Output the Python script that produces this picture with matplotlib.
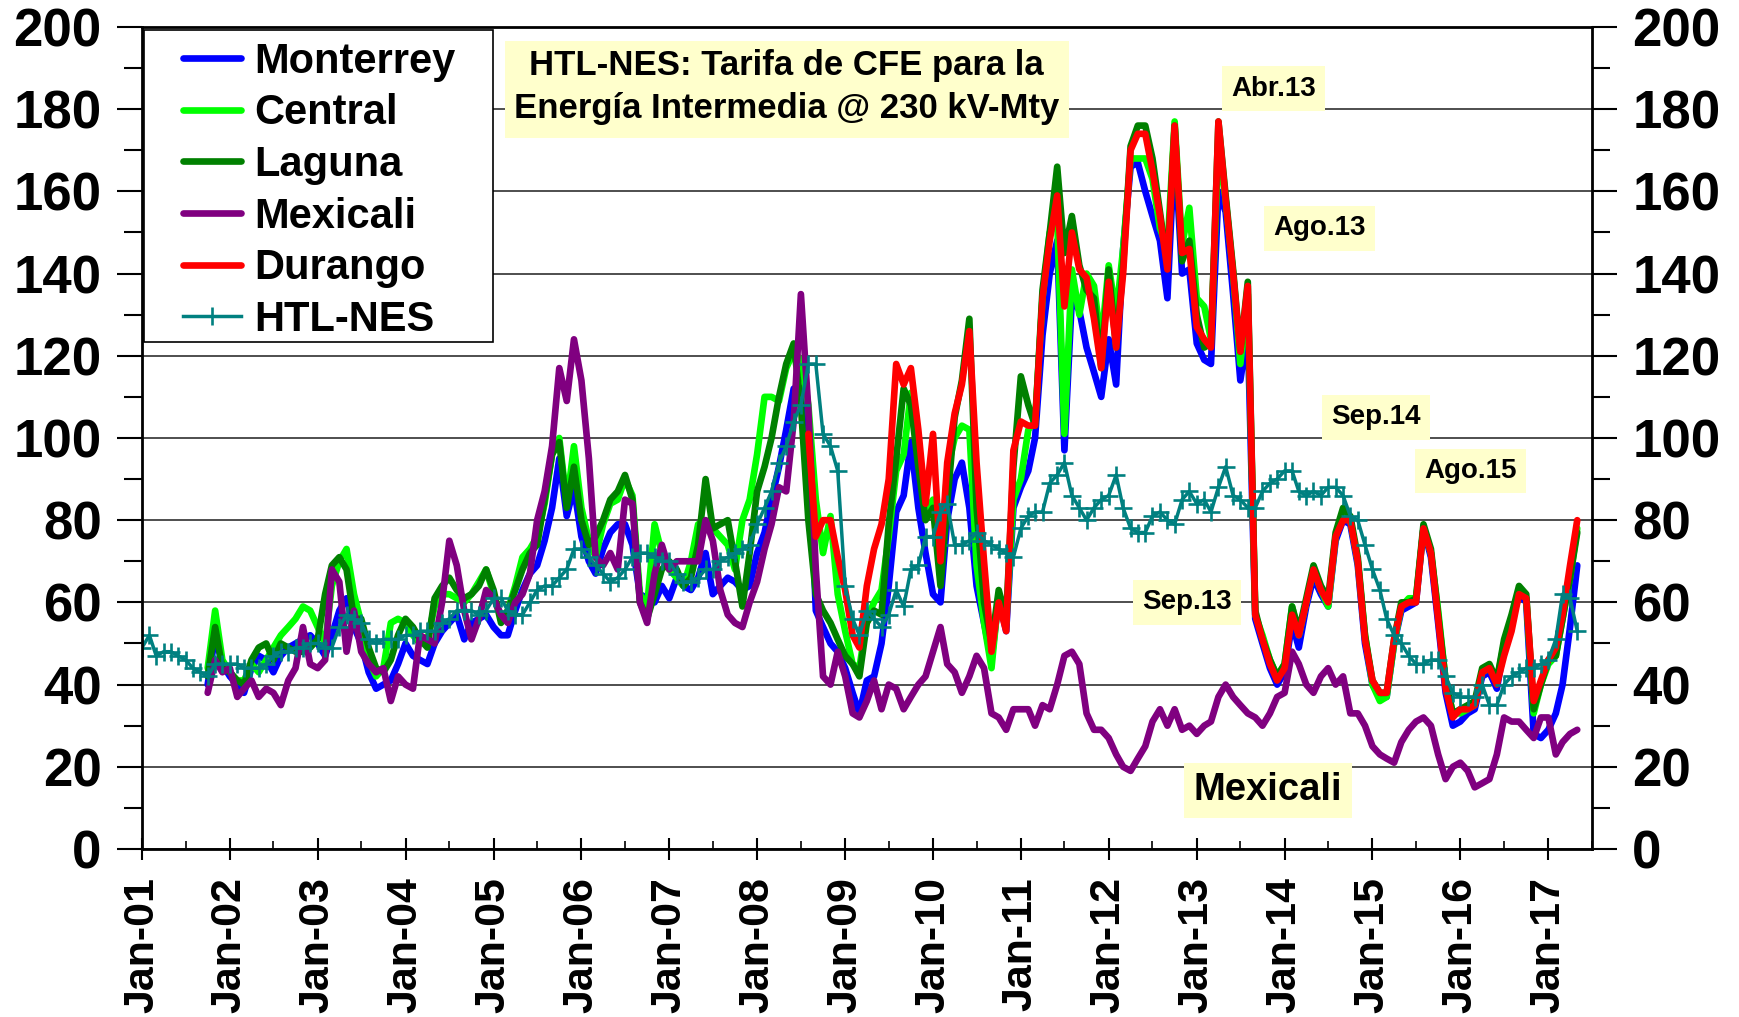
import matplotlib
matplotlib.use('Agg')
import matplotlib.pyplot as plt
import matplotlib.dates as mdates
from matplotlib.patches import Rectangle
from matplotlib.ticker import MultipleLocator
import pandas as pd

plt.rcParams['font.family'] = ['Liberation Sans', 'DejaVu Sans']
plt.rcParams['font.weight'] = 'bold'

# monthly values
htl_start = '2001-01-01'
htl_nes = [49, 52, 47, 48, 48, 47, 46, 44, 43, 42, 45, 45,
           45, 45, 44, 44, 44, 45, 47, 48, 48, 49, 49, 50,
           50, 49, 49, 54, 57, 56, 55, 51, 50, 51, 51, 51,
           52, 52, 53, 53, 53, 55, 56, 58, 58, 58, 57, 58,
           61, 61, 58, 57, 57, 60, 63, 64, 64, 66, 68, 73,
           73, 71, 69, 67, 65, 66, 68, 71, 72, 72, 71, 70,
           70, 67, 65, 65, 66, 68, 68, 70, 71, 72, 73, 74,
           79, 83, 87, 94, 98, 104, 108, 118, 118, 101, 98, 92,
           64, 56, 52, 58, 56, 54, 57, 63, 59, 68, 69, 76,
           76, 82, 84, 74, 74, 75, 77, 75, 74, 73, 72, 71,
           78, 81, 82, 82, 89, 91, 94, 86, 83, 80, 83, 85,
           86, 91, 83, 78, 77, 77, 81, 82, 80, 79, 85, 87,
           84, 85, 82, 88, 93, 86, 85, 83, 83, 87, 89, 90,
           92, 92, 87, 86, 87, 86, 88, 88, 86, 81, 80, 74,
           68, 63, 56, 52, 50, 47, 45, 45, 46, 46, 42, 38,
           37, 37, 37, 40, 35, 35, 40, 42, 43, 44, 44, 45,
           46, 51, 62, 61, 53]

region_start = '2001-10-01'
monterrey = [40, 52, 45,
             42, 40, 38, 44, 47, 46, 43, 47, 49, 50, 51, 52,
             50, 47, 52, 58, 61, 54, 50, 43, 39, 40, 41, 45,
             50, 47, 46, 45, 50, 53, 55, 57, 51, 55, 56, 57,
             54, 52, 52, 58, 63, 67, 69, 75, 83, 95, 81, 88,
             76, 70, 67, 73, 77, 79, 79, 74, 62, 61, 60, 64,
             61, 66, 64, 63, 66, 72, 62, 64, 66, 65, 63, 64,
             72, 77, 85, 93, 102, 112, 112, 103, 58, 54, 50, 48,
             44, 38, 33, 41, 42, 50, 64, 82, 86, 99, 83, 72,
             62, 60, 80, 90, 94, 83, 64, 55, 46, 61, 53, 83,
             88, 92, 100, 125, 140, 148, 97, 134, 131, 122, 116, 110,
             124, 113, 146, 166, 167, 160, 154, 148, 134, 171, 140, 141,
             123, 119, 118, 160, 155, 135, 114, 126, 56, 50, 44, 40,
             43, 55, 49, 59, 66, 62, 59, 75, 80, 79, 69, 50,
             40, 37, 37, 50, 58, 59, 60, 78, 71, 55, 38, 30,
             31, 33, 34, 42, 43, 39, 49, 55, 62, 60, 28, 27,
             29, 33, 40, 54, 69]

central = [44, 58, 46,
           43, 41, 41, 45, 43, 46, 49, 52, 54, 56, 59, 58,
           54, 50, 64, 70, 73, 62, 55, 46, 42, 44, 55, 56,
           55, 52, 50, 51, 59, 62, 62, 61, 60, 62, 65, 68,
           62, 56, 58, 64, 71, 73, 76, 84, 96, 100, 84, 98,
           83, 75, 71, 79, 84, 85, 90, 86, 62, 59, 79, 72,
           68, 66, 64, 70, 79, 80, 78, 76, 74, 68, 80, 85,
           96, 110, 110, 109, 117, 121, 119, 108, 85, 72, 81, 62,
           53, 45, 44, 56, 60, 63, 76, 92, 96, 111, 98, 82,
           85, 68, 92, 100, 103, 102, 69, 55, 44, 62, 55, 85,
           90, 102, 104, 134, 150, 153, 101, 141, 130, 140, 137, 123,
           142, 130, 146, 168, 168, 168, 163, 151, 146, 177, 147, 156,
           134, 132, 124, 171, 158, 140, 118, 135, 57, 52, 46, 42,
           45, 59, 52, 60, 68, 63, 59, 76, 81, 80, 70, 52,
           40, 36, 37, 50, 59, 61, 61, 78, 72, 58, 41, 33,
           33, 34, 35, 43, 44, 41, 50, 56, 63, 61, 33, 40,
           45, 47, 56, 66, 78]

laguna = [42, 54, 44,
          43, 41, 40, 46, 49, 50, 46, 50, 49, 48, 48, 49,
          51, 62, 69, 71, 68, 56, 56, 49, 44, 43, 46, 52,
          56, 54, 51, 49, 61, 64, 66, 63, 61, 62, 64, 68,
          63, 55, 58, 63, 68, 72, 74, 85, 96, 99, 83, 93,
          80, 74, 76, 80, 85, 87, 91, 85, 60, 56, 62, 68,
          70, 68, 64, 66, 74, 90, 78, 79, 80, 70, 59, 72,
          87, 93, 100, 110, 118, 123, 108, 80, 62, 58, 55, 51,
          47, 45, 42, 55, 58, 57, 79, 95, 112, 108, 93, 80,
          83, 64, 84, 105, 114, 129, 83, 60, 50, 63, 56, 93,
          115, 108, 103, 136, 150, 166, 145, 154, 142, 136, 134, 117,
          141, 122, 142, 171, 176, 176, 168, 155, 142, 176, 143, 148,
          130, 122, 123, 177, 159, 141, 121, 138, 58, 51, 46, 42,
          45, 59, 53, 61, 69, 64, 61, 77, 83, 81, 71, 52,
          41, 38, 38, 51, 60, 60, 61, 79, 73, 57, 41, 33,
          34, 35, 36, 44, 45, 41, 51, 57, 64, 62, 34, 40,
          46, 47, 56, 66, 77]

mexicali = [38, 46, 43,
            44, 37, 39, 41, 37, 39, 38, 35, 41, 44, 54, 45,
            44, 46, 68, 65, 48, 58, 48, 45, 43, 44, 36, 42,
            40, 39, 52, 51, 50, 60, 75, 69, 58, 51, 56, 63,
            61, 57, 55, 60, 62, 67, 80, 87, 98, 117, 109, 124,
            114, 95, 71, 69, 72, 68, 85, 84, 60, 55, 67, 74,
            68, 70, 70, 70, 70, 80, 75, 63, 57, 55, 54, 60,
            65, 73, 79, 88, 87, 104, 135, 107, 68, 42, 40, 48,
            42, 33, 32, 36, 41, 34, 40, 39, 34, 37, 40, 42,
            48, 54, 45, 43, 38, 42, 47, 44, 33, 32, 29, 34,
            34, 34, 30, 35, 34, 40, 47, 48, 45, 33, 29, 29,
            27, 23, 20, 19, 22, 25, 31, 34, 30, 34, 29, 30,
            28, 30, 31, 37, 40, 37, 35, 33, 32, 30, 33, 37,
            38, 48, 45, 40, 38, 42, 44, 40, 42, 33, 33, 30,
            25, 23, 22, 21, 26, 29, 31, 32, 30, 23, 17, 20,
            21, 19, 15, 16, 17, 23, 32, 31, 31, 29, 27, 32,
            32, 23, 26, 28, 29]

durango_start = '2008-08-01'
durango = [101, 76, 80, 80, 71,
           63, 52, 49, 64, 73, 79, 90, 118, 113, 117, 102, 84,
           101, 70, 94, 106, 113, 126, 94, 70, 48, 60, 53, 97,
           104, 103, 103, 134, 148, 159, 132, 150, 141, 139, 129, 117,
           138, 122, 140, 170, 174, 174, 165, 154, 141, 176, 145, 146,
           127, 124, 122, 177, 158, 140, 121, 137, 57, 51, 45, 41,
           44, 57, 52, 60, 68, 63, 60, 76, 80, 80, 70, 51,
           41, 38, 38, 51, 59, 60, 60, 78, 72, 56, 39, 32,
           34, 34, 35, 43, 44, 40, 47, 53, 62, 61, 36, 41,
           46, 49, 57, 69, 80]


def months(start, n):
    return pd.date_range(start, periods=n, freq='MS')


fig = plt.figure(figsize=(17.4, 10.17), dpi=100)
ax = fig.add_axes([0.0816, 0.1652, 0.8333, 0.8083])

lines = [('Monterrey', region_start, monterrey, '#0000FF'),
         ('Central', region_start, central, '#00FF00'),
         ('Laguna', region_start, laguna, '#008000'),
         ('Mexicali', region_start, mexicali, '#800080'),
         ('Durango', durango_start, durango, '#FF0000')]
for name, start, vals, color in lines:
    ax.plot(months(start, len(vals)), vals, color=color, lw=4.8, label=name,
            solid_joinstyle='round', solid_capstyle='round')
ax.plot(months(htl_start, len(htl_nes)), htl_nes, color='#008080', lw=2.5,
        marker='+', ms=13, mew=1.9, label='HTL-NES')

ax.set_xlim(pd.Timestamp('2001-01-01'), pd.Timestamp('2017-07-01'))
ax.set_ylim(0, 200)
ax.xaxis.set_major_locator(mdates.YearLocator(month=1))
ax.xaxis.set_major_formatter(mdates.DateFormatter('%b-%y'))
ax.xaxis.set_minor_locator(mdates.MonthLocator(bymonth=7))
ax.yaxis.set_major_locator(MultipleLocator(20))
ax.yaxis.set_minor_locator(MultipleLocator(10))
ax.grid(axis='y', which='major', color='#303030', lw=1.2)
ax.set_axisbelow(True)

ax.tick_params(axis='y', which='major', direction='out', length=18, width=1.5,
               labelsize=38, pad=11, right=True, labelright=True)
ax.tick_params(axis='y', which='minor', direction='out', length=13, width=1.5, right=True)
ax.tick_params(axis='x', which='major', direction='inout', length=16, width=1.5,
               labelsize=31, pad=12, labelrotation=90)
ax.tick_params(axis='x', which='minor', direction='in', length=6, width=1.2)
for s in ax.spines.values():
    s.set_linewidth(2)

# legend: white box drawn by hand, entries placed inside it
ax.add_patch(Rectangle((0.0014, 0.6168), 0.2407, 0.3796, transform=ax.transAxes,
                       facecolor='white', edgecolor='black', lw=1.2, zorder=4))
leg = ax.legend(loc='upper left', bbox_to_anchor=(0.0283, 0.982), borderaxespad=0,
                borderpad=0, fontsize=30, frameon=False, handlelength=1.4,
                handletextpad=0.3, labelspacing=0.28, numpoints=1)
leg.set_zorder(5)

# title box
ax.add_patch(Rectangle((0.2503, 0.8650), 0.3890, 0.1180, transform=ax.transAxes,
                       facecolor='#FFFFCC', edgecolor='none', zorder=4))
ax.text(0.4447, 0.9269, 'HTL-NES: Tarifa de CFE para la\nEnergía Intermedia @ 230 kV-Mty',
        transform=ax.transAxes, ha='center', va='center', fontsize=25,
        linespacing=1.35, zorder=5)

box = dict(boxstyle='square,pad=0.33', facecolor='#FFFFCC', edgecolor='none')
notes = [('Abr.13', '2013-11-15', 185),
         ('Ago.13', '2014-05-25', 151),
         ('Sep.14', '2015-01-15', 105),
         ('Ago.15', '2016-02-12', 92),
         ('Sep.13', '2012-11-20', 60)]
for txt, d, v in notes:
    ax.text(pd.Timestamp(d), v, txt, ha='center', va='center', fontsize=20, bbox=box, zorder=5)
ax.text(pd.Timestamp('2013-10-25'), 14.3, 'Mexicali', ha='center', va='center',
        fontsize=27.5, zorder=5,
        bbox=dict(boxstyle='square,pad=0.25', facecolor='#FFFFCC', edgecolor='none'))

fig.savefig('out.png', dpi=100)
